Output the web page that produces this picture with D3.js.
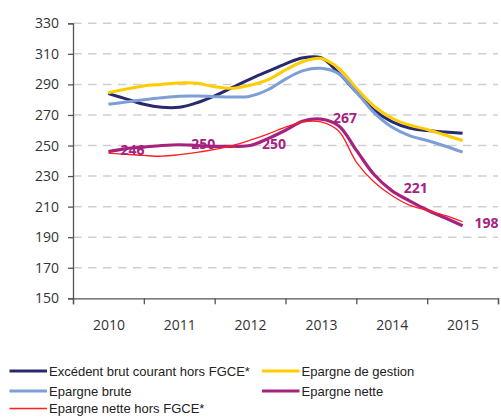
<!DOCTYPE html>
<html>
<head>
    <meta charset="utf-8">
    <title>Epargne</title>
    <script src="https://d3js.org/d3.v7.min.js"></script>
    <style>
        * {
            margin: 0;
            padding: 0;
        }
        body {
            background: #fff;
        }
        .tick text {
            font-family: "Open Sans", sans-serif;
            font-size: 14px;
            fill: #333;
        }
        .legend text {
            font-family: "Liberation Sans", Arial, sans-serif;
            font-size: 13px;
            fill: #222;
        }
    </style>
</head>
<body>
<div id="chart"></div>

<script>
    // années affichées sur l'axe
    const years = [2010, 2011, 2012, 2013, 2014, 2015];
    const yTicks = [150, 170, 190, 210, 230, 250, 270, 290, 310, 330];

    // valeurs trimestrielles, de 2010 à 2015 (21 points)
    const excedentBrut = [284, 280.5, 277, 275, 275, 278, 282.5, 288, 293.5, 298.5, 303.5, 307.5, 307.5, 297.5, 285, 273.2, 265.7, 261.5, 259.8, 258.8, 258];
    const epargneGestion = [284.5, 287, 289, 290, 291, 290.7, 288.5, 287.5, 289.5, 293, 299.5, 305, 307, 300.7, 287.6, 275.8, 268, 263.4, 260.5, 256.9, 253.3];
    const epargneBrute = [277, 278.5, 280, 281.3, 282.3, 282.4, 282, 281.7, 282.3, 286.5, 293.5, 299, 300.5, 297, 285, 271.5, 262.1, 256.5, 253.3, 249.7, 245.7];
    const epargneNette = [246, 248, 249, 250, 250.5, 250, 249.5, 249.5, 250, 254.5, 260, 266, 267.3, 263, 247, 231, 220.5, 213.8, 207.8, 202.7, 197.5];
    const epargneNetteHors = [245, 244.3, 243.5, 243, 244, 245.5, 247.5, 250, 253.5, 257.5, 262, 265.5, 265.5, 259.5, 239.2, 226.1, 217.3, 211, 207.5, 204.2, 200.1];

    // étiquettes annuelles de l'épargne nette
    const netteLabels = [246, 250, 250, 267, 221, 198];

    const seriesNames = ["Excédent brut courant hors FGCE*", "Epargne de gestion", "Epargne brute", "Epargne nette", "Epargne nette hors FGCE*"];
    const seriesValues = [excedentBrut, epargneGestion, epargneBrute, epargneNette, epargneNetteHors];
    const seriesColors = ["#282a6e", "#ffcc00", "#7d9ed7", "#a5237f", "#ff1f1f"];
    const seriesWidths = [3, 3, 3, 3.2, 1.3];

    const width = 501, height = 417;
    const margin = {left: 73, right: 3, top: 23.3, bottom: 118.7};

    const svg = d3.select("#chart").append("svg")
        .attr("width", width)
        .attr("height", height);

    const x = d3.scaleLinear()
        .domain([2009.5, 2015.5])
        .range([margin.left, width - margin.right]);

    const y = d3.scaleLinear()
        .domain([150, 330])
        .range([height - margin.bottom, margin.top]);

    // grille pointillée
    svg.append("g")
        .selectAll("line")
        .data(yTicks.filter(d => d > 150))
        .join("line")
        .attr("x1", x(2009.5))
        .attr("x2", x(2015.5))
        .attr("y1", d => y(d))
        .attr("y2", d => y(d))
        .attr("stroke", "#cfcfcf")
        .attr("stroke-width", 1.5)
        .attr("stroke-dasharray", "8.5,6.5");

    // axe Y
    const yAxis = svg.append("g")
        .attr("transform", `translate(${margin.left},0)`)
        .call(d3.axisLeft(y).tickValues(yTicks).tickSize(5).tickPadding(9));
    yAxis.select(".domain").attr("stroke", "#555").attr("stroke-width", 1.3);
    yAxis.selectAll(".tick line").attr("stroke", "#555").attr("stroke-width", 1.3);

    // axe X : traits entre les années
    const xAxis = svg.append("g")
        .attr("transform", `translate(0,${y(150)})`)
        .call(d3.axisBottom(x).tickValues(d3.range(2009.5, 2016, 1)).tickSize(6).tickFormat(""));
    xAxis.select(".domain").attr("stroke", "#555").attr("stroke-width", 1.3);
    xAxis.selectAll(".tick line").attr("stroke", "#555").attr("stroke-width", 1.3);

    // libellés des années
    const xLabels = svg.append("g")
        .attr("transform", `translate(0,${y(150)})`)
        .call(d3.axisBottom(x).tickValues(years).tickSize(0).tickPadding(22).tickFormat(d3.format("d")));
    xLabels.select(".domain").remove();

    // courbes
    const line = d3.line()
        .x((d, i) => x(2010 + i / 4))
        .y(d => y(d))
        .curve(d3.curveCatmullRom.alpha(0.5));

    svg.append("g")
        .selectAll("path")
        .data(seriesValues)
        .join("path")
        .attr("d", d => line(d))
        .attr("fill", "none")
        .attr("stroke", (d, i) => seriesColors[i])
        .attr("stroke-width", (d, i) => seriesWidths[i])
        .attr("stroke-linejoin", "round");

    // étiquettes de valeur
    svg.append("g")
        .selectAll("text")
        .data(netteLabels)
        .join("text")
        .attr("x", (d, i) => x(years[i]) + 24)
        .attr("y", d => y(d) + 3)
        .attr("text-anchor", "middle")
        .attr("font-family", "'Open Sans', sans-serif")
        .attr("font-size", 14)
        .attr("font-weight", "bold")
        .attr("fill", "#a5237f")
        .text(d => d);

    // légende (la dernière ligne est remontée un peu pour rester dans le cadre)
    const legendRows = [371, 391, 408.5];
    const legend = svg.append("g").attr("class", "legend");
    const legendItem = legend.selectAll("g")
        .data(seriesNames)
        .join("g")
        .attr("transform", (d, i) => `translate(${i % 2 === 0 ? 9.5 : 262},${legendRows[Math.floor(i / 2)]})`);

    legendItem.append("line")
        .attr("x1", 0)
        .attr("x2", 37.5)
        .attr("stroke", (d, i) => seriesColors[i])
        .attr("stroke-width", (d, i) => i === 4 ? 1.3 : 3);

    legendItem.append("text")
        .attr("x", 39.5)
        .attr("y", 4.7)
        .text(d => d);
</script>
</body>
</html>
